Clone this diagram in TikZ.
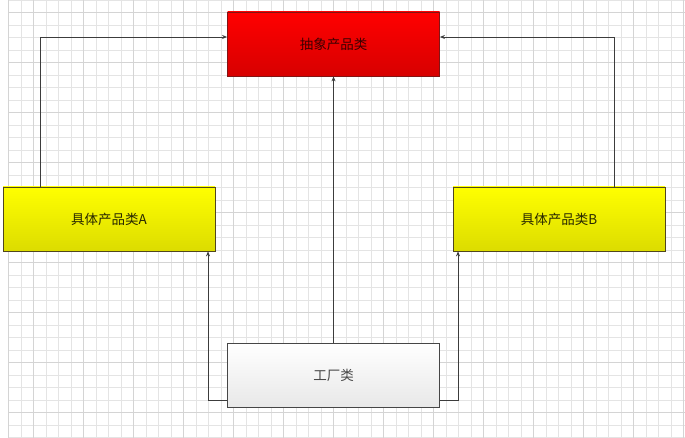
\documentclass[tikz,border=0pt]{standalone}
\usepackage{fontspec}
\newfontfamily\cjk{Noto Sans CJK SC}
\usetikzlibrary{arrows.meta}
\definecolor{gridc}{RGB}{228,228,228}
\definecolor{gridd}{RGB}{212,212,212}
\definecolor{linec}{RGB}{60,60,60}
\tikzset{
  box/.style={rectangle, minimum width=212pt, minimum height=64pt, inner sep=0pt, font=\cjk\fontsize{13.5}{15}\selectfont, line width=0.8pt},
  redbox/.style={box, draw={rgb,255:red,130;green,20;blue,20}, top color={rgb,255:red,255;green,0;blue,0}, bottom color={rgb,255:red,215;green,0;blue,0}, text={rgb,255:red,60;green,0;blue,0}},
  yelbox/.style={box, draw={rgb,255:red,80;green,70;blue,30}, top color={rgb,255:red,255;green,255;blue,0}, bottom color={rgb,255:red,220;green,220;blue,0}, text={rgb,255:red,40;green,40;blue,0}},
  facbox/.style={box, draw={rgb,255:red,70;green,70;blue,70}, top color=white, bottom color={rgb,255:red,232;green,232;blue,232}, text={rgb,255:red,70;green,70;blue,70}},
  conn/.style={draw=linec, line width=0.8pt, -{Stealth[length=5pt,width=4pt]}}
}
\begin{document}
\begin{tikzpicture}[x=1pt,y=-1pt]
\useasboundingbox (0,0) rectangle (685,438);
\fill[white] (0,0) rectangle (685,438);
% grid
\foreach \i in {0,...,54} {
  \draw[gridc, line width=0.5pt] ({8.3+12.5*\i},0) -- ({8.3+12.5*\i},437.5);
}
\foreach \j in {0,...,35} {
  \draw[gridc, line width=0.5pt] (8.3,{12.5*\j}) -- (685,{12.5*\j});
}
\foreach \i in {0,...,13} {
  \draw[gridd, line width=0.5pt] ({33.3+50*\i},0) -- ({33.3+50*\i},437.5);
}
\foreach \j in {0,...,8} {
  \draw[gridd, line width=0.5pt] (8.3,{12.5+50*\j}) -- (685,{12.5+50*\j});
}
\draw[gridd, line width=0.5pt] (8.3,0) -- (8.3,437.5);
% nodes
\node[redbox] (red) at (333.5,44) {抽象产品类};
\node[yelbox] (A) at (109,219) {具体产品类A};
\node[yelbox] (B) at (559,219) {具体产品类B};
\node[facbox] (fac) at (333.5,375) {工厂类};
% connectors
\draw[conn] (A.north -| 40,0) |- ([yshift=7pt]red.west);
\draw[conn] (B.north -| 614,0) |- ([yshift=7pt]red.east);
\draw[conn] (fac.north) -- (red.south);
\draw[conn] ([yshift=-25pt]fac.west) -| (A.south -| 208,0);
\draw[conn] ([yshift=-25pt]fac.east) -| (B.south -| 458,0);
\end{tikzpicture}
\end{document}
